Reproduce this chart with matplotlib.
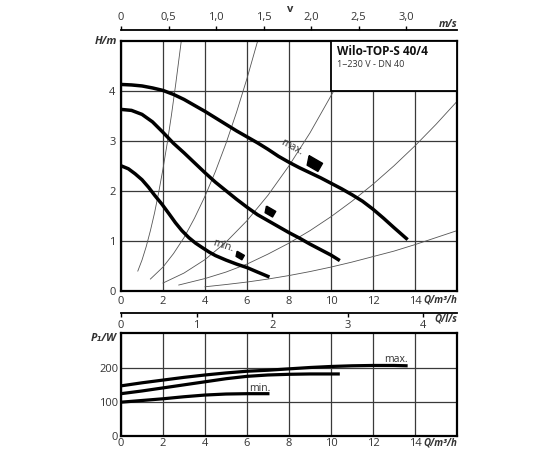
import numpy as np
import matplotlib
matplotlib.use("Agg")
import matplotlib.pyplot as plt
from matplotlib.patches import Rectangle
from matplotlib.path import Path

plt.rcParams['font.family'] = ['Open Sans', 'DejaVu Sans']

# pump curves H(Q), Q in m3/h, H in m
q_max = [0, 0.5, 1.0, 1.5, 2.0, 2.5, 3.0, 3.5, 4.0, 4.5, 5.0, 5.5, 6.0, 6.5, 7.0,
         7.5, 8.0, 8.5, 9.0, 9.5, 10.0, 10.5, 11.0, 11.5, 12.0, 12.5, 13.0, 13.65]
h_max = [4.13, 4.12, 4.10, 4.06, 4.01, 3.93, 3.83, 3.71, 3.59, 3.46, 3.33, 3.20, 3.08, 2.96, 2.83,
         2.69, 2.57, 2.46, 2.36, 2.26, 2.15, 2.04, 1.92, 1.79, 1.63, 1.45, 1.26, 1.02]
q_mid = [0, 0.5, 1.0, 1.5, 2.0, 2.5, 3.0, 3.5, 4.0, 4.5, 5.0, 5.5, 6.0, 6.5, 7.0,
         7.5, 8.0, 8.5, 9.0, 9.5, 10.0, 10.42]
h_mid = [3.63, 3.61, 3.53, 3.38, 3.17, 2.95, 2.76, 2.56, 2.36, 2.17, 2.00, 1.83, 1.67, 1.52, 1.40,
         1.28, 1.16, 1.05, 0.93, 0.82, 0.71, 0.60]
q_min = [0, 0.35, 0.67, 1.0, 1.31, 1.6, 1.95, 2.3, 2.59, 2.9, 3.23, 3.55, 3.87, 4.2, 4.5,
         5.0, 5.5, 6.0, 6.5, 7.07]
h_min = [2.50, 2.44, 2.34, 2.22, 2.07, 1.91, 1.73, 1.53, 1.36, 1.20, 1.06, 0.95, 0.86, 0.77, 0.70,
         0.61, 0.53, 0.46, 0.37, 0.27]

# system curves (thin)
sys_q = [
    [0.8, 1.0, 1.2, 1.4, 1.6, 1.8, 2.0, 2.2, 2.4, 2.6, 2.87],
    [1.4, 2.0, 2.5, 3.0, 3.5, 4.0, 4.5, 5.0, 5.5, 6.0, 6.5],
    [2.0, 3.0, 4.0, 5.0, 6.0, 7.0, 8.0, 9.0, 10.13],
    [2.75, 4, 5, 6, 7, 8, 9, 10, 11, 12, 13, 14, 15, 16],
    [4.0, 5, 6, 7, 8, 9, 10, 11, 12, 13, 14, 15, 16],
]
sys_h = [
    [0.39, 0.61, 0.88, 1.20, 1.56, 1.98, 2.44, 2.95, 3.51, 4.12, 5.0],
    [0.23, 0.47, 0.74, 1.06, 1.45, 1.89, 2.39, 2.95, 3.57, 4.25, 4.99],
    [0.15, 0.35, 0.62, 0.97, 1.40, 1.91, 2.50, 3.16, 4.0],
    [0.11, 0.24, 0.37, 0.53, 0.73, 0.95, 1.20, 1.48, 1.79, 2.13, 2.50, 2.90, 3.33, 3.79],
    [0.075, 0.12, 0.17, 0.23, 0.30, 0.38, 0.47, 0.57, 0.68, 0.79, 0.92, 1.06, 1.20],
]

# power curves P1(Q)
pq_max = [0, 1, 2, 3, 4, 5, 6, 7, 8, 9, 10, 11, 12, 13, 13.65]
p_max = [146, 155, 163, 171, 178, 184, 189, 192, 196, 200, 203, 205, 206, 206, 205]
pq_mid = [0, 1, 2, 3, 4, 5, 6, 7, 8, 9, 10, 10.42]
p_mid = [123, 131, 140, 149, 158, 167, 174, 178, 180, 181, 181, 181]
pq_min = [0, 1, 2, 3, 4, 5, 6, 7.07]
p_min = [98, 103, 108, 114, 119, 122, 123, 123]

q_ticks = [0, 2, 4, 6, 8, 10, 12, 14]
h_ticks = [0, 1, 2, 3, 4]
p_ticks = [0, 100, 200]
v_ticks = [0, 0.5, 1.0, 1.5, 2.0, 2.5, 3.0]
v_labels = ['0', '0,5', '1,0', '1,5', '2,0', '2,5', '3,0']
ls_ticks = [0, 1, 2, 3, 4]

# marker positions: (Q, H, size)
pump_marks = [(9.15, 2.55, 13), (7.06, 1.6, 9), (5.6, 0.71, 7)]

title = 'Wilo-TOP-S 40/4'
subtitle = '1~230 V - DN 40'

GRID = '#3a3a3a'
TXT = '#333333'

fig = plt.figure(figsize=(5.5, 4.5), dpi=100)
ax = fig.add_axes([0.22, 0.3544, 0.6109, 0.5544])
axp = fig.add_axes([0.22, 0.0322, 0.6109, 0.2267])

for a, pad, ylab in ((ax, 4, -0.016), (axp, 2, -0.02)):
    a.set_xlim(0, 16)
    a.set_xticks(q_ticks)
    a.set_xticklabels([str(t) for t in q_ticks])
    a.tick_params(length=0, labelsize=8, labelcolor=TXT, pad=pad)
    a.grid(True, color=GRID, lw=0.9)
    a.set_axisbelow(True)
    for s in a.spines.values():
        s.set_linewidth(1.6)
    a.text(1.0, ylab, 'Q/m³/h', transform=a.transAxes, ha='right', va='top',
           fontsize=7, fontstyle='italic', fontweight='bold', color=TXT)

ax.set_ylim(0, 5)
ax.set_yticks(h_ticks)
axp.set_ylim(0, 300)
axp.set_yticks(p_ticks)

ax.text(-0.012, 1.0, 'H/m', transform=ax.transAxes, ha='right', va='center',
        fontsize=8, fontstyle='italic', fontweight='bold', color=TXT)
axp.text(-0.012, 0.95, 'P₁/W', transform=axp.transAxes, ha='right', va='center',
         fontsize=8, fontstyle='italic', fontweight='bold', color=TXT)

for qs, hs in zip(sys_q, sys_h):
    ax.plot(qs, hs, color='#555555', lw=0.6, zorder=2)

ax.add_patch(Rectangle((10, 4), 6, 1, facecolor='white', edgecolor='black', lw=1.3, zorder=3))
ax.text(10.3, 4.79, title, fontsize=8.5, fontweight='bold', color='#111111', va='center', zorder=5)
ax.text(10.3, 4.53, subtitle, fontsize=6.5, color=TXT, va='center', zorder=5)

for qs, hs in [(q_max, h_max), (q_mid, h_mid), (q_min, h_min)]:
    ax.plot(qs, hs, color='black', lw=2.5, solid_capstyle='butt', zorder=4)

ang = np.deg2rad(-30)
base = np.array([[-1.0, 0.6], [1.0, 0.6], [1.0, -0.6], [-0.6, -0.6], [-1.0, 0.6]])
rot = np.array([[np.cos(ang), -np.sin(ang)], [np.sin(ang), np.cos(ang)]])
mark = Path(base @ rot.T)
for mq, mh, ms in pump_marks:
    ax.plot(mq, mh, marker=mark, markersize=ms, color='black', zorder=5)

ax.text(8.15, 2.86, 'max.', rotation=-28, fontsize=7.5, color=TXT, ha='center', va='center', zorder=5)
ax.text(4.86, 0.9, 'min.', rotation=-18, fontsize=7.5, color=TXT, ha='center', va='center', zorder=5)

axp.plot(pq_max, p_max, color='black', lw=2.3, solid_capstyle='butt')
axp.plot(pq_mid, p_mid, color='black', lw=2.3, solid_capstyle='butt')
axp.plot(pq_min, p_min, color='black', lw=2.3, solid_capstyle='butt')
axp.text(13.1, 224, 'max.', fontsize=7.5, color=TXT, ha='center', va='center')
axp.text(6.6, 138, 'min.', fontsize=7.5, color=TXT, ha='center', va='center')

# velocity axis on top (DN 40)
area = np.pi * 0.02 ** 2
axv = fig.add_axes([0.22, 0.9333, 0.6109, 0.0001])
axv.set_xlim(0, 16 / 3600 / area)
axv.patch.set_visible(False)
for k in ('left', 'right', 'bottom'):
    axv.spines[k].set_visible(False)
axv.spines['top'].set_linewidth(1.3)
axv.set_yticks([])
axv.xaxis.set_ticks_position('top')
axv.set_xticks(v_ticks)
axv.set_xticklabels(v_labels)
axv.tick_params(direction='out', length=3, width=1, labelsize=8, labelcolor=TXT, pad=2)
axv.text(1.0, 4, 'm/s', transform=axv.transAxes, ha='right', va='bottom',
         fontsize=7.5, fontstyle='italic', fontweight='bold', color=TXT)
fig.text(0.527, 0.99, 'v', ha='center', va='top', fontsize=8, fontweight='bold', color=TXT)

# flow axis in l/s
axl = fig.add_axes([0.22, 0.3044, 0.6109, 0.0001])
axl.set_xlim(0, 16 / 3.6)
axl.patch.set_visible(False)
for k in ('left', 'right', 'top'):
    axl.spines[k].set_visible(False)
axl.spines['bottom'].set_linewidth(1.3)
axl.set_yticks([])
axl.set_xticks(ls_ticks)
axl.set_xticklabels([str(t) for t in ls_ticks])
axl.tick_params(direction='out', length=3, width=1, labelsize=8, labelcolor=TXT, pad=2)
axl.text(1.0, -4, 'Q/l/s', transform=axl.transAxes, ha='right', va='top',
         fontsize=7, fontstyle='italic', fontweight='bold', color=TXT)

fig.savefig('out.png', dpi=100)
